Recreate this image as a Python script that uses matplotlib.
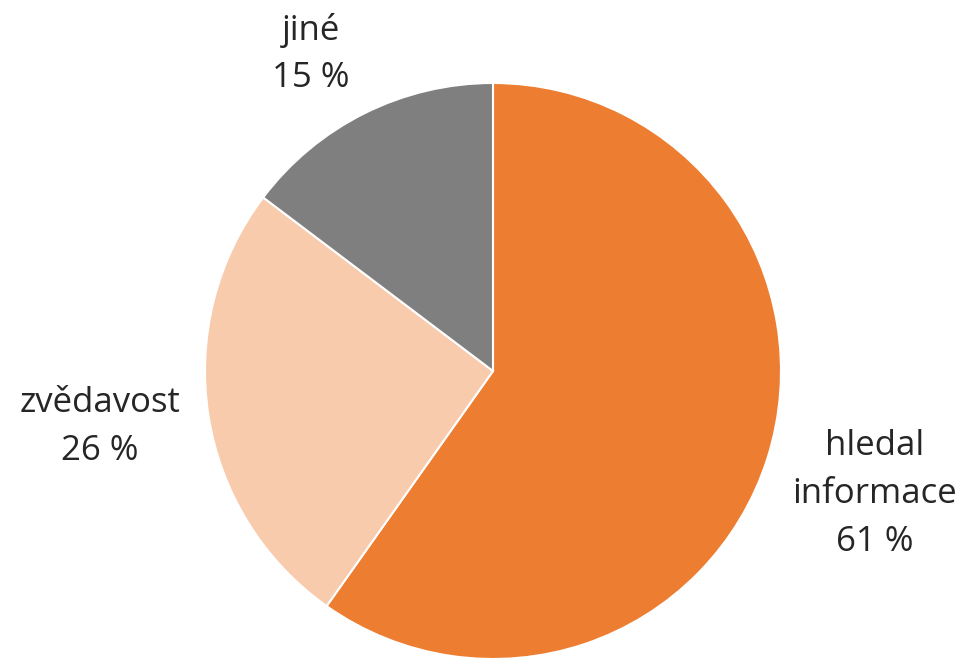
import numpy as np
import matplotlib
matplotlib.use("Agg")
import matplotlib.pyplot as plt

categories = ["hledal\ninformace", "zvědavost", "jiné"]
values = [61, 26, 15]
value_labels = ["61 %", "26 %", "15 %"]
colors = ["#ED7D31", "#F8CBAD", "#7F7F7F"]

plt.rcParams['font.family'] = ['Open Sans', 'DejaVu Sans']

W, H = 964, 658
fig = plt.figure(figsize=(W / 100, H / 100), dpi=100)
ax = fig.add_axes([0, 0, 1, 1])

cx, cy, r = 493, H - 371, 288
wedges, _ = ax.pie(values, colors=colors, startangle=90, counterclock=False,
                   center=(cx, cy), radius=r, frame=True,
                   wedgeprops=dict(edgecolor='white', linewidth=1.5))
ax.set_xlim(0, W)
ax.set_ylim(0, H)
ax.set_aspect('equal')
ax.axis('off')

# label anchor positions (pixels from top-left)
label_pos = [(875, 494), (100, 427), (311, 54)]
for cat, vl, (px, py) in zip(categories, value_labels, label_pos):
    ax.text(px, H - py, f"{cat}\n{vl}", ha='center', va='center', fontsize=25,
            color='#262626', linespacing=1.53)

fig.savefig("out.png", dpi=100)
